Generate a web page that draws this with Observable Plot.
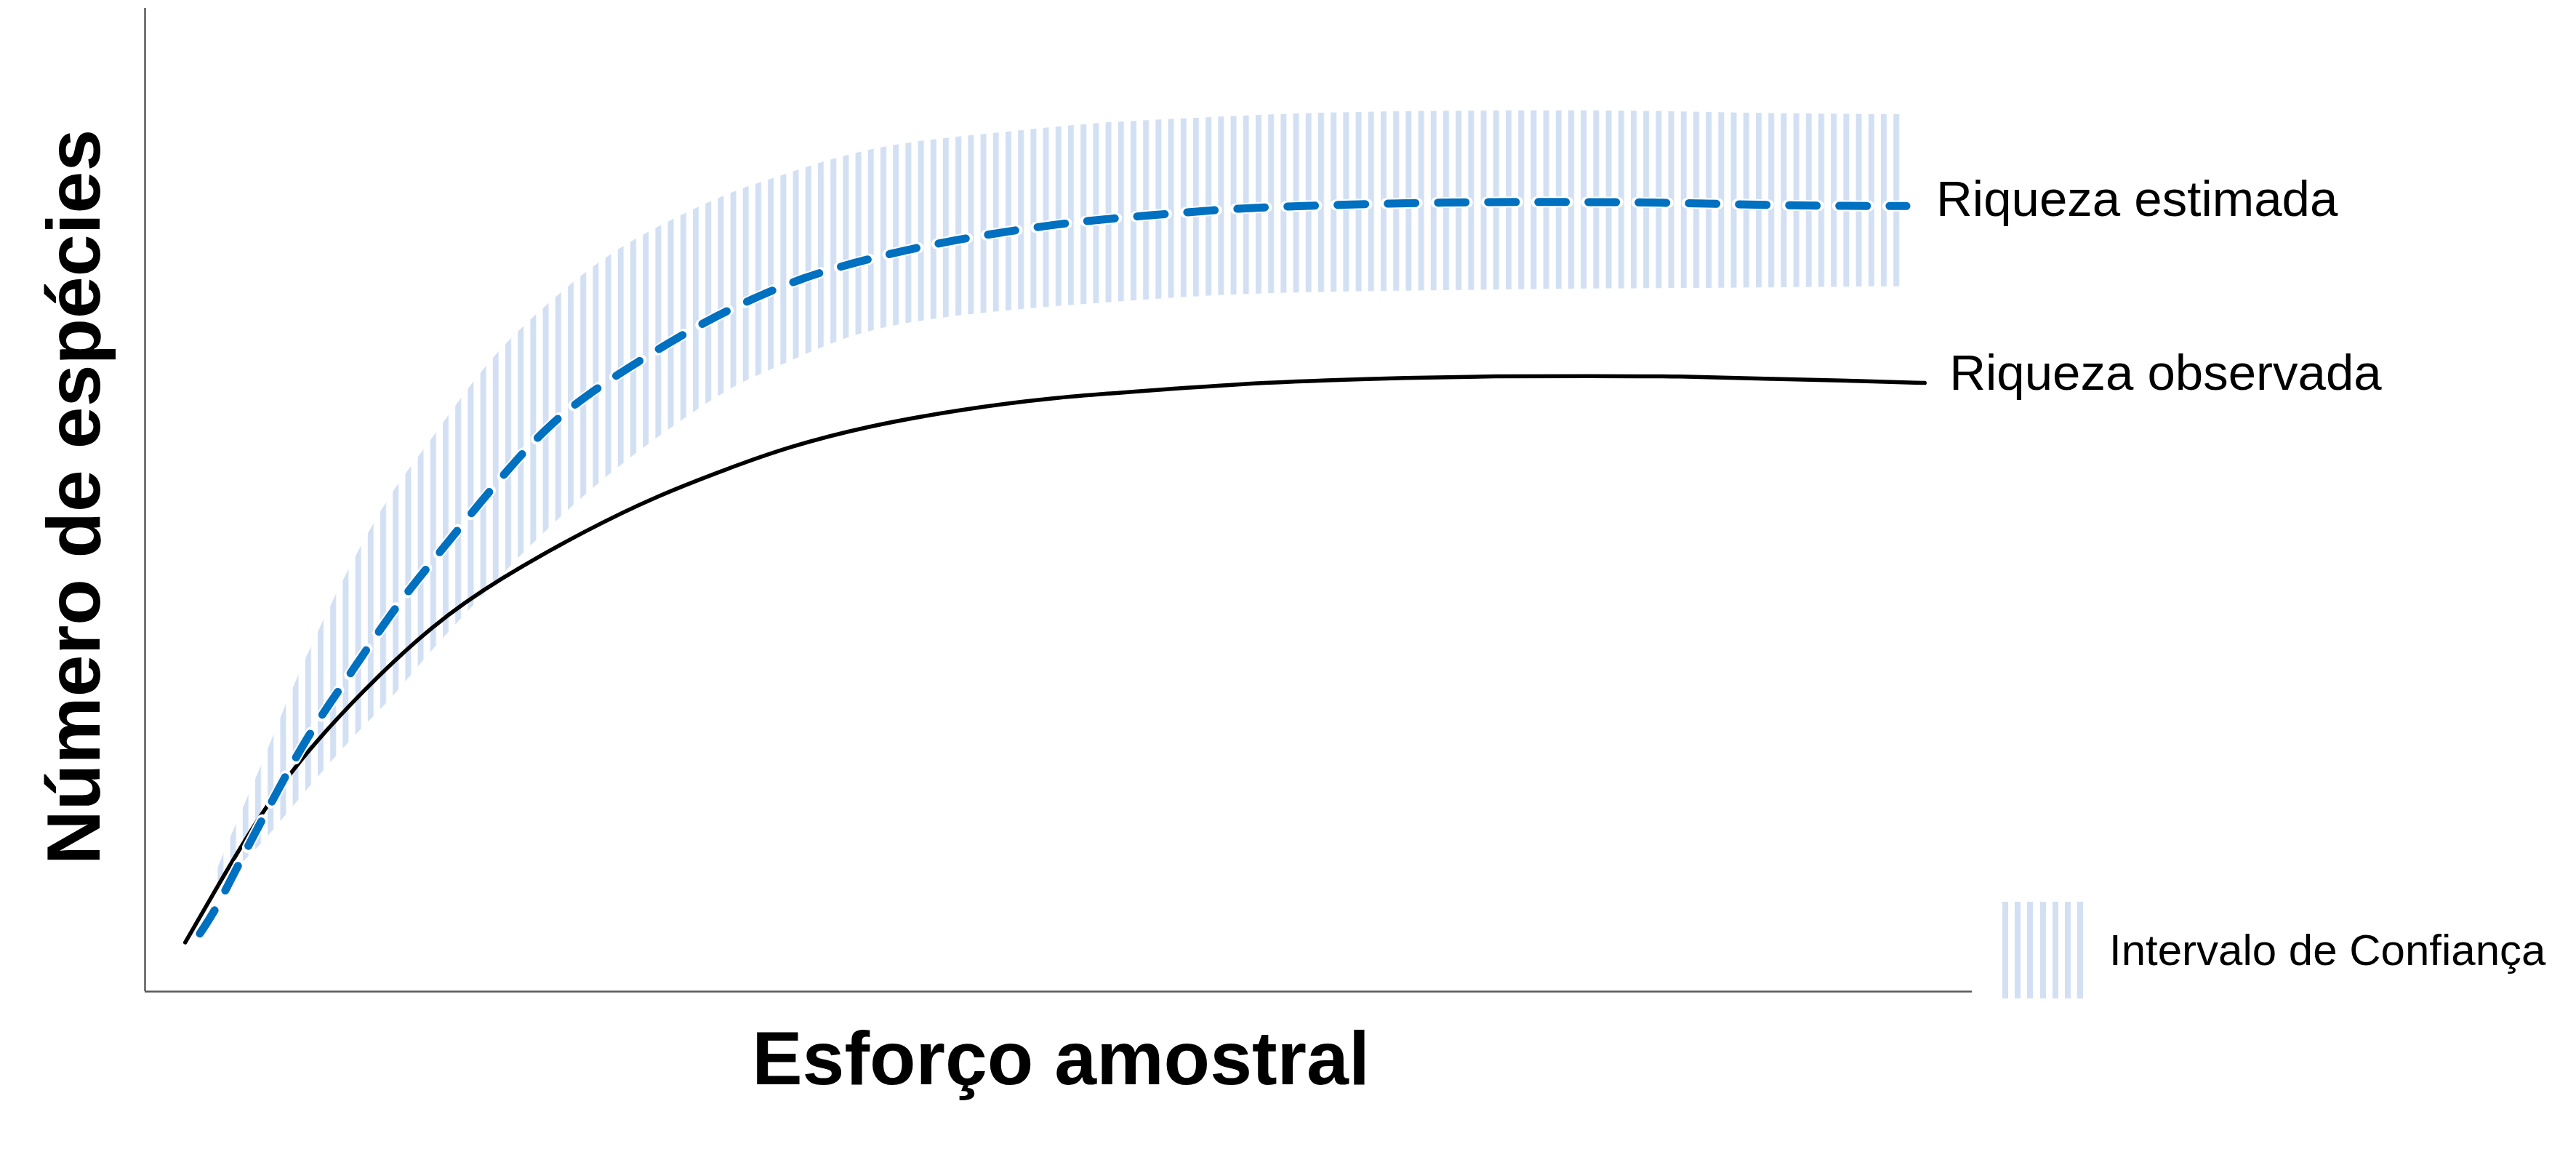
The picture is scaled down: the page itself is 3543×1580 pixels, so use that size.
<!DOCTYPE html>
<html>
<head>
<meta charset="utf-8">
<script src="https://cdn.jsdelivr.net/npm/d3@7"></script>
<script src="https://cdn.jsdelivr.net/npm/@observablehq/plot@0.6"></script>
<style>
  html, body { margin: 0; padding: 0; background: #ffffff; }
  #wrap { position: relative; width: 3543px; height: 1580px; overflow: hidden; }
  #wrap svg { display: block; }
  #legend { position: absolute; left: 2750px; top: 1240px; display: flex; align-items: center;
            font-family: "Liberation Sans", Arial, sans-serif; font-size: 60px; color: #000; }
  #legend .swatch { width: 121px; height: 133px;
            background: repeating-linear-gradient(90deg, #ffffff 0 4px, #d3e0f3 4px 12px, #ffffff 12px 17.2px); }
  #legend .label { margin-left: 30px; white-space: nowrap; }
</style>
</head>
<body>
<div id="wrap"></div>
<script>
// --- Data ---
const esforcoObs = [2.2, 3.9, 6.1, 8.4, 12.0, 15.8, 19.3, 24.2, 28.0, 31.9, 35.2, 39.5, 44.6, 49.6, 54.7, 59.8, 64.9, 68.8, 73.9, 79.0, 84.0, 89.1, 94.2, 97.4];
const riquezaObs = [5.0, 10.5, 17.4, 23.5, 30.8, 37.4, 41.9, 47.0, 50.4, 53.2, 55.4, 57.5, 59.2, 60.4, 61.1, 61.8, 62.2, 62.4, 62.6, 62.6, 62.6, 62.3, 62.1, 61.9];

const esforcoEst = [3.0, 3.9, 5.1, 6.9, 8.9, 11.2, 13.5, 15.3, 17.8, 20.3, 22.9, 26.7, 30.5, 32.7, 35.9, 39.5, 43.3, 47.1, 50.9, 54.7, 59.8, 64.9, 71.3, 76.4, 81.5, 86.6, 91.6, 96.4];
const riquezaEst = [5.9, 8.4, 12.9, 19.2, 26.1, 32.2, 38.6, 42.8, 48.5, 54.1, 59.1, 63.8, 68.0, 70.0, 72.6, 74.5, 76.1, 77.3, 78.3, 78.9, 79.7, 80.0, 80.3, 80.3, 80.3, 80.1, 79.9, 79.9];

const esforcoIC = [3.9, 5.6, 6.4, 8.4, 11.2, 13.5, 15.3, 17.6, 19.6, 21.6, 24.7, 27.9, 32.0, 34.4, 38.2, 42.0, 47.1, 52.2, 57.3, 62.3, 71.3, 79.0, 84.0, 89.1, 96.3];
const icInferior = [10.5, 13.6, 15.0, 19.5, 25.6, 29.7, 33.9, 38.5, 42.5, 46.3, 51.6, 56.2, 61.5, 63.3, 66.6, 68.2, 69.3, 70.0, 70.7, 71.1, 71.3, 71.5, 71.5, 71.6, 71.7];
const icSuperior = [12.2, 19.7, 23.0, 32.5, 43.3, 50.9, 55.1, 61.2, 65.7, 69.2, 74.2, 77.7, 81.3, 82.7, 85.1, 86.5, 87.4, 88.4, 88.8, 89.3, 89.6, 89.6, 89.5, 89.3, 89.2];

const tituloX = "Esforço amostral";
const tituloY = "Número de espécies";
const rotuloEst = "Riqueza estimada";
const rotuloObs = "Riqueza observada";
const rotuloIC = "Intervalo de Confiança";

// --- Tables ---
const obs = esforcoObs.map((x, i) => ({x, y: riquezaObs[i]}));
const est = esforcoEst.map((x, i) => ({x, y: riquezaEst[i]}));
const ic = esforcoIC.map((x, i) => ({x, lo: icInferior[i], hi: icSuperior[i]}));
const fimEst = [{...est[est.length - 1], label: rotuloEst}];
const fimObs = [{...obs[obs.length - 1], label: rotuloObs}];

const font = "'Liberation Sans', Arial, Helvetica, sans-serif";

const chart = Plot.plot({
  width: 3543,
  height: 1580,
  marginLeft: 199,
  marginRight: 831,
  marginTop: 11,
  marginBottom: 217,
  x: {domain: [0, 100], axis: null},
  y: {domain: [0, 100], axis: null},
  style: {fontFamily: font, background: "#ffffff", overflow: "visible", color: "#000"},
  marks: [
    Plot.areaY(ic, {x: "x", y1: "lo", y2: "hi", fill: "url(#ic-listras)", curve: "basis"}),
    Plot.ruleX([0], {stroke: "#595959", strokeWidth: 2.5}),
    Plot.ruleY([0], {stroke: "#595959", strokeWidth: 2.5}),
    Plot.line(obs, {x: "x", y: "y", stroke: "#000000", strokeWidth: 5.5, curve: "basis"}),
    Plot.line(est, {x: "x", y: "y", stroke: "#ffffff", strokeWidth: 15, strokeDasharray: "43,26", strokeDashoffset: 2.5, curve: "basis"}),
    Plot.line(est, {x: "x", y: "y", stroke: "#0070c0", strokeWidth: 11, strokeDasharray: "38,31", curve: "basis"}),
    Plot.text(fimEst, {x: "x", y: "y", text: "label", textAnchor: "start", lineAnchor: "middle", dx: 41, dy: -8, fontSize: 69, fill: "#000"}),
    Plot.text(fimObs, {x: "x", y: "y", text: "label", textAnchor: "start", lineAnchor: "middle", dx: 34, dy: -13, fontSize: 69, fill: "#000"}),
    Plot.text([tituloX], {text: d => d, frameAnchor: "bottom", textAnchor: "middle", lineAnchor: "middle", dx: 3, dy: 94, fontSize: 104, fontWeight: "bold", fill: "#000"}),
    Plot.text([tituloY], {text: d => d, frameAnchor: "left", textAnchor: "middle", lineAnchor: "middle", rotate: -90, dx: -96, dy: -4, fontSize: 104, fontWeight: "bold", fill: "#000"})
  ]
});

const svg = chart.tagName.toLowerCase() === "svg" ? chart : chart.querySelector("svg");
const defs = d3.select(svg).insert("defs", ":first-child");
const pat = defs.append("pattern")
  .attr("id", "ic-listras")
  .attr("patternUnits", "userSpaceOnUse")
  .attr("x", 7).attr("y", 0)
  .attr("width", 17.2).attr("height", 40);
pat.append("rect").attr("x", 0).attr("y", 0).attr("width", 8).attr("height", 40).attr("fill", "#d3e0f3");

const wrap = document.getElementById("wrap");
wrap.appendChild(chart);

// Legend for the confidence interval
const legend = document.createElement("div");
legend.id = "legend";
const sw = document.createElement("div");
sw.className = "swatch";
const lb = document.createElement("span");
lb.className = "label";
lb.textContent = rotuloIC;
legend.appendChild(sw);
legend.appendChild(lb);
wrap.appendChild(legend);
</script>
</body>
</html>
